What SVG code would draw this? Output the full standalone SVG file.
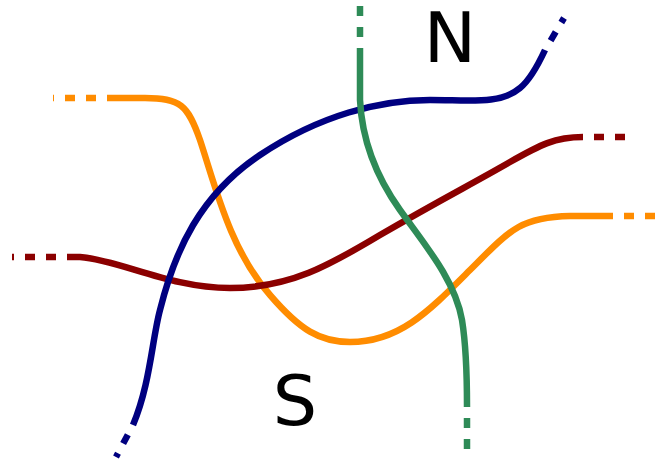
<svg xmlns="http://www.w3.org/2000/svg" width="655" height="461" viewBox="0 0 655 461">
<style>
.l{fill:none;stroke-width:6.5}
.d{fill:none;stroke-width:6.5;stroke-dasharray:10 11;stroke-dashoffset:10}
.o{stroke:#ff8c00}.r{stroke:#8b0000}.b{stroke:#000080}.g{stroke:#2e8b57}
text{font-family:"DejaVu Sans",sans-serif;font-size:70px;fill:#000;text-anchor:middle}
</style>
<rect width="655" height="461" fill="#fff"/>
<g id="connectors">
<g id="orange">
<path class="l o" d="M107,98 L145,98 C180,98 188,105 200,140 C215,185 230,250 270,295 C300,330 320,342 350,342 C400,342 430,310 470,270 C510,230 520,217 570,216 L613,216"/>
<path class="d o" d="M107,98 L53,98"/>
<path class="d o" d="M613,216 L657,216"/>
</g>
<g id="red">
<path class="l r" d="M67,257 L80,257 C120,260 170,288 230,288 C290,288 330,265 380,235 C440,200 470,185 510,162 C540,145 555,137 583,137"/>
<path class="d r" d="M67,257 L12,257"/>
<path class="d r" d="M583,137 L626,137"/>
</g>
<g id="blue">
<path class="l b" d="M133,425 C150,385 152,340 160,310 C175,250 200,195 260,155 C320,115 380,100 430,100 C470,100 500,105 520,88 C530,80 538,65 545,50"/>
<path class="d b" d="M133,425 L116,457"/>
<path class="d b" d="M545,50 L564,18"/>
</g>
<g id="green">
<path class="l g" d="M360,48 L360,100 C362,140 375,175 400,210 C425,245 455,280 462,320 C466,345 467,370 467,407"/>
<path class="d g" d="M360,48 L360,6"/>
<path class="d g" d="M467,407 L467,450"/>
</g>
</g>
<g id="N"><text x="450" y="62">N</text></g>
<g id="S"><text x="295" y="425">S</text></g>
</svg>
